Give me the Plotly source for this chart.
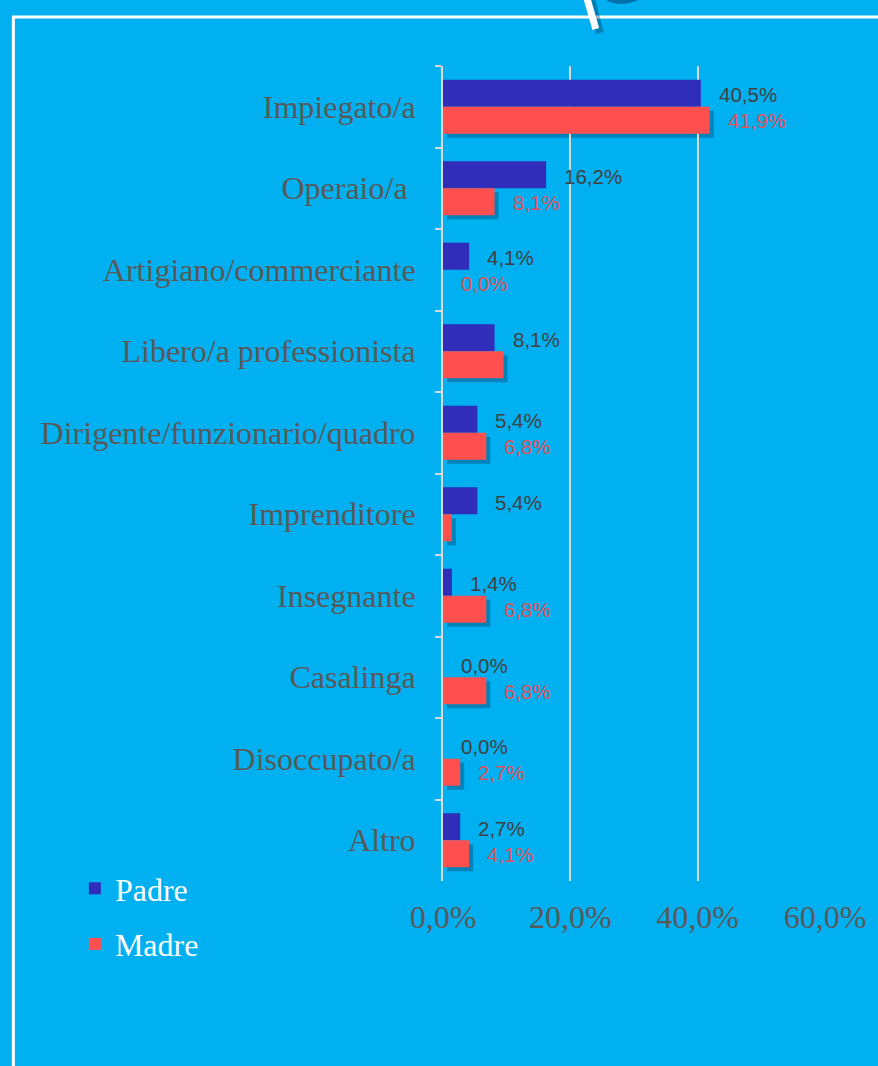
import plotly.graph_objects as go

# ---------------- data ----------------
categories = ["Impiegato/a", "Operaio/a\u00a0", "Artigiano/commerciante", "Libero/a professionista",
              "Dirigente/funzionario/quadro", "Imprenditore", "Insegnante", "Casalinga",
              "Disoccupato/a", "Altro"]
padre = [40.5, 16.2, 4.1, 8.1, 5.4, 5.4, 1.4, 0.0, 0.0, 2.7]
madre = [41.9, 8.1, 0.0, 9.5, 6.8, 1.4, 6.8, 6.8, 2.7, 4.1]
padre_labels = ["40,5%", "16,2%", "4,1%", "8,1%", "5,4%", "5,4%", "1,4%", "0,0%", "0,0%", "2,7%"]
madre_labels = ["41,9%", "8,1%", "0,0%", "", "6,8%", "", "6,8%", "6,8%", "2,7%", "4,1%"]
series_names = ["Padre", "Madre"]
x_ticks = [0, 20, 40, 60]
x_tick_labels = ["0,0%", "20,0%", "40,0%", "60,0%"]

# ---------------- style ----------------
W, H = 878, 1066
L, R, T, B = 443, 50, 66, 185
PW, PH = W - L - R, H - T - B
BG = "#00B0F0"
PADRE_C = "#2F2DB9"
MADRE_C = "#FF4F4F"
GRID_C = "#D9D9D9"
SERIF = "Liberation Serif, Times New Roman, serif"
SANS = "Liberation Sans, Arial, sans-serif"

x_max = x_ticks[-1]
n = len(categories)
shadow_px = 4
dx = shadow_px * x_max / PW
dy = shadow_px * n / PH


def px(x):
    return (x - L) / PW


def py(y):
    return 1 - (y - T) / PH


fig = go.Figure()

# shadow layer (drawn first, underneath)
fig.add_trace(go.Bar(y=categories, x=padre, orientation="h", xaxis="x", yaxis="y",
                     marker=dict(color="rgba(0,0,0,0)", line=dict(width=0)),
                     showlegend=False, hoverinfo="skip"))
fig.add_trace(go.Bar(y=categories, x=madre, orientation="h", xaxis="x", yaxis="y",
                     marker=dict(color="rgba(0,45,85,0.35)", line=dict(width=0)),
                     showlegend=False, hoverinfo="skip"))

# real bars
fig.add_trace(go.Bar(y=categories, x=padre, orientation="h", name=series_names[0],
                     xaxis="x2", yaxis="y2", legendgroup="p",
                     marker=dict(color=PADRE_C, line=dict(width=0))))
fig.add_trace(go.Bar(y=categories, x=madre, orientation="h", name=series_names[1],
                     xaxis="x2", yaxis="y2", legendgroup="m",
                     marker=dict(color=MADRE_C, line=dict(width=0))))

annotations = []
for cat, v, t in zip(categories, padre, padre_labels):
    if t:
        annotations.append(dict(x=v, y=cat, xref="x2", yref="y2", text=t, showarrow=False,
                                xanchor="left", yanchor="middle", xshift=16, yshift=12,
                                font=dict(family=SANS, size=20.5, color="#404040")))
for cat, v, t in zip(categories, madre, madre_labels):
    if t:
        annotations.append(dict(x=v, y=cat, xref="x2", yref="y2", text=t, showarrow=False,
                                xanchor="left", yanchor="middle", xshift=16, yshift=-14,
                                font=dict(family=SANS, size=20.5, color="#DE525A")))

shapes = [
    # slide border
    dict(type="path", xref="paper", yref="paper",
         path=f"M {px(10)} {py(1080)} L {px(10)} {py(17)} L {px(890)} {py(17)}",
         line=dict(color="white", width=3)),
    # decoration shadow
    dict(type="path", xref="paper", yref="paper",
         path=f"M {px(592)} {py(-2)} L {px(601)} {py(33)}",
         line=dict(color="rgba(0,40,80,0.35)", width=8)),
    # decoration stroke
    dict(type="path", xref="paper", yref="paper",
         path=f"M {px(588)} {py(-2)} L {px(597)} {py(29)}",
         line=dict(color="white", width=7)),
    dict(type="path", xref="paper", yref="paper",
         path=f"M {px(608)} {py(-2)} Q {px(620)} {py(6)} {px(640)} {py(-2)}",
         line=dict(color="rgba(0,40,80,0.45)", width=4)),
]

fig.update_layout(
    width=W, height=H,
    margin=dict(l=L, r=R, t=T, b=B),
    paper_bgcolor=BG, plot_bgcolor="rgba(0,0,0,0)",
    barmode="group", bargap=0.337, bargroupgap=0,
    separators=",.",
    xaxis=dict(range=[-dx, x_max - dx], visible=False, domain=[0, 1]),
    yaxis=dict(type="category", categoryorder="array", categoryarray=categories,
               range=[n - 0.5 - dy, -0.5 - dy], visible=False, domain=[0, 1]),
    xaxis2=dict(anchor="y2", domain=[0, 1], range=[0, x_max], tickmode="array",
                tickvals=x_ticks, ticktext=x_tick_labels,
                showgrid=True, gridcolor=GRID_C, gridwidth=2,
                zeroline=False, showline=False, ticks="", ticklabelstandoff=14,
                tickfont=dict(family=SERIF, size=32, color="#595959")),
    yaxis2=dict(anchor="x2", domain=[0, 1], type="category", categoryorder="array",
                categoryarray=categories, range=[n - 0.5, -0.5],
                showline=True, linecolor=GRID_C, linewidth=2, showgrid=False,
                ticks="outside", tickson="boundaries", ticklen=6, tickwidth=2, tickcolor=GRID_C,
                ticklabelstandoff=19,
                tickfont=dict(family=SERIF, size=32, color="#595959")),
    legend=dict(x=px(72), y=py(861), xanchor="left", yanchor="top",
                bgcolor="rgba(0,0,0,0)", tracegroupgap=11, traceorder="grouped",
                font=dict(family=SERIF, size=32, color="white")),
    annotations=annotations,
    shapes=shapes,
    showlegend=True,
)

fig.write_html("out.html", config={"displayModeBar": False},
               post_script="document.body.style.margin='0';")
